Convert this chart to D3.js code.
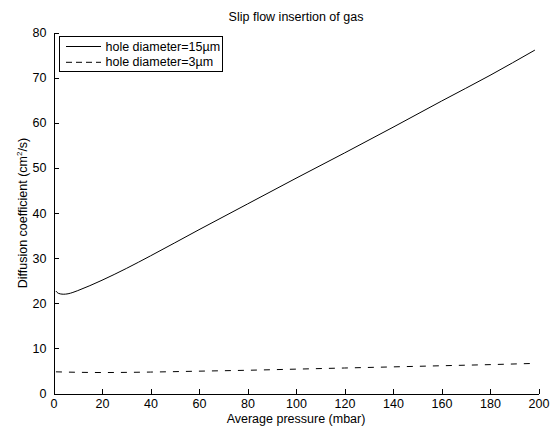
<html>
  <head>
    <script src="https://cdn.jsdelivr.net/npm/d3@7"></script>
    <style type="text/css">
    body { margin: 0; background: #fff; }
    text { font-family: "Liberation Sans", Arial, sans-serif; font-size: 12.5px; fill: black; }
    .axis path, .axis line { stroke: black; stroke-width: 1; shape-rendering: crispEdges; }
    path.curve { fill: none; stroke: black; stroke-width: 1; }
    rect.legend { fill: white; stroke: black; stroke-width: 1; shape-rendering: crispEdges; }
    </style>
  </head>
  <body>
    <script type="text/javascript">

      var width = 560;
      var height = 426;

      // pressure (mbar) / diffusion coefficient (cm^2/s)
      var pressure15 = [1, 2, 4, 6, 8, 10, 15, 20, 30, 40, 60, 80, 100, 120, 140, 160, 180, 198.5];
      var diff15 = [22.7, 22.2, 22.0, 22.1, 22.4, 22.8, 23.9, 25.1, 27.7, 30.5, 36.3, 42.0, 47.7, 53.3, 59.0, 64.8, 70.5, 76.1];

      var pressure3 = [1, 10, 20, 40, 60, 80, 100, 120, 140, 160, 180, 197];
      var diff3 = [4.8, 4.7, 4.65, 4.75, 4.95, 5.15, 5.4, 5.65, 5.9, 6.15, 6.4, 6.65];

      var xTicks = [0, 20, 40, 60, 80, 100, 120, 140, 160, 180, 200];
      var yTicks = [0, 10, 20, 30, 40, 50, 60, 70, 80];
      var seriesNames = ["hole diameter=15\u00b5m", "hole diameter=3\u00b5m"];

      var l = 53.5, r = 538.5, t = 32.5, b = 393.5;

      var svg = d3.select("body").append("svg")
        .attr("width", width)
        .attr("height", height);

      var x = d3.scaleLinear().domain([0, 200]).range([l, r]);
      var y = d3.scaleLinear().domain([0, 80]).range([b, t]);

      /* Draw axes, ticks pointing inwards */
      var xAxis = svg.append("g")
        .attr("class", "axis")
        .attr("transform", "translate(0," + b + ")")
        .call(d3.axisBottom(x).tickValues(xTicks).tickSizeInner(-5).tickSizeOuter(0).tickPadding(6));
      xAxis.selectAll("text").attr("font-size", null).attr("font-family", null);

      var yAxis = svg.append("g")
        .attr("class", "axis")
        .attr("transform", "translate(" + l + ",0)")
        .call(d3.axisLeft(y).tickValues(yTicks).tickSizeInner(-5).tickSizeOuter(0).tickPadding(7));
      yAxis.selectAll("text").attr("font-size", null).attr("font-family", null);

      /* Draw curves */
      var line = d3.line()
        .x(function(d) { return x(d[0]); })
        .y(function(d) { return y(d[1]); })
        .curve(d3.curveMonotoneX);

      svg.append("path")
        .attr("class", "curve")
        .attr("d", line(d3.zip(pressure15, diff15)));

      svg.append("path")
        .attr("class", "curve")
        .attr("stroke-dasharray", "6,7")
        .attr("d", line(d3.zip(pressure3, diff3)));

      /* Title and labels */
      svg.append("text")
        .attr("x", (l + r) / 2)
        .attr("y", 21)
        .attr("text-anchor", "middle")
        .text("Slip flow insertion of gas");

      svg.append("text")
        .attr("x", (l + r) / 2)
        .attr("y", 423)
        .attr("text-anchor", "middle")
        .text("Average pressure (mbar)");

      var yl = svg.append("text")
        .attr("transform", "translate(27," + ((t + b) / 2) + ") rotate(-90)")
        .attr("text-anchor", "middle");
      yl.append("tspan").text("Diffusion coefficient (cm");
      yl.append("tspan").attr("dy", -5).style("font-size", "8px").text("2");
      yl.append("tspan").attr("dy", 5).text("/s)");

      /* Legend */
      var lg = svg.append("g");
      lg.append("rect")
        .attr("class", "legend")
        .attr("x", 59.5)
        .attr("y", 36.5)
        .attr("width", 163)
        .attr("height", 35);

      var dashes = [null, "6,4"];
      seriesNames.forEach(function(name, i) {
        var ly = 46.5 + i * 15.8;
        lg.append("line")
          .attr("x1", 66).attr("x2", 101)
          .attr("y1", ly).attr("y2", ly)
          .attr("stroke", "black")
          .attr("stroke-dasharray", dashes[i]);
        lg.append("text")
          .attr("x", 105.5)
          .attr("y", ly + 4)
          .text(name);
      });

    </script>
  </body>
</html>
